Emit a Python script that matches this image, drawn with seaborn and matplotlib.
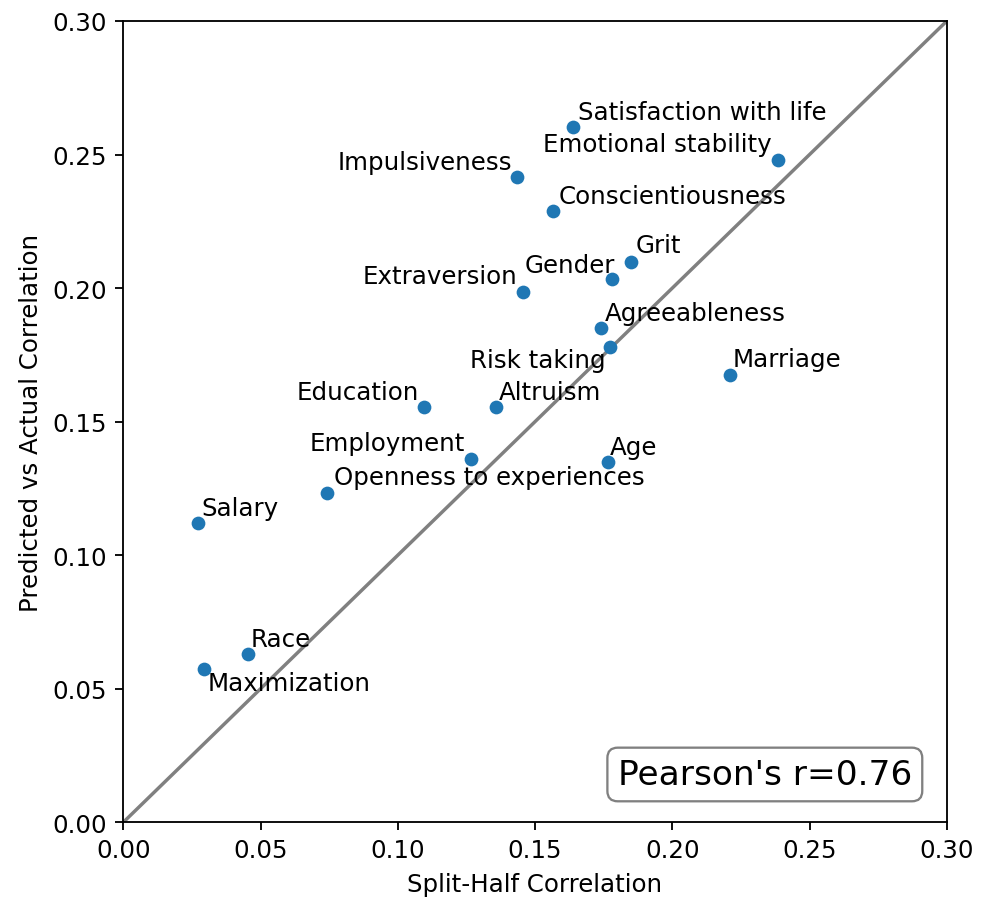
import matplotlib
matplotlib.use("Agg")
import matplotlib.pyplot as plt
import seaborn as sns
import pandas as pd

# Outcome measures
traits = [
    "Satisfaction with life", "Emotional stability", "Impulsiveness",
    "Conscientiousness", "Grit", "Gender", "Extraversion", "Agreeableness",
    "Risk taking", "Marriage", "Education", "Altruism", "Employment", "Age",
    "Openness to experiences", "Salary", "Race", "Maximization",
]
split_half = [
    0.1640, 0.2384, 0.1436, 0.1567, 0.1849, 0.1779, 0.1455, 0.1740,
    0.1773, 0.2210, 0.1097, 0.1358, 0.1268, 0.1765, 0.0741, 0.0271,
    0.0453, 0.0293,
]
pred_vs_actual = [
    0.2602, 0.2480, 0.2415, 0.2288, 0.2097, 0.2034, 0.1987, 0.1851,
    0.1781, 0.1676, 0.1554, 0.1554, 0.1360, 0.1348, 0.1233, 0.1121,
    0.0631, 0.0573,
]
ticks = [0.00, 0.05, 0.10, 0.15, 0.20, 0.25, 0.30]
pearson_r = 0.76

# Label placement relative to each point: (dx px, dy px, alignment)
label_offsets = {
    "Satisfaction with life": (5, 8, "left"),
    "Emotional stability": (-6, 9, "right"),
    "Impulsiveness": (-5, 8, "right"),
    "Conscientiousness": (5, 8, "left"),
    "Grit": (5, 10, "left"),
    "Gender": (3, 7, "right"),
    "Extraversion": (-5, 9, "right"),
    "Agreeableness": (4, 8, "left"),
    "Risk taking": (-4, -20, "right"),
    "Marriage": (3, 9, "left"),
    "Education": (-5, 8, "right"),
    "Altruism": (3, 8, "left"),
    "Employment": (-6, 9, "right"),
    "Age": (2, 8, "left"),
    "Openness to experiences": (7, 9, "left"),
    "Salary": (4, 8, "left"),
    "Race": (3, 8, "left"),
    "Maximization": (4, -21, "left"),
}

DPI = 165
FS = 10.7
df = pd.DataFrame({"trait": traits, "split_half": split_half,
                   "pred": pred_vs_actual})

fig = plt.figure(figsize=(987 / DPI, 900 / DPI), dpi=DPI)
ax = fig.add_axes([0.1249, 0.0852, 0.8344, 0.8904])

# identity line
ax.plot([0, 0.30], [0, 0.30], color="gray", lw=1.5, zorder=1)

sns.scatterplot(data=df, x="split_half", y="pred", ax=ax, color="#1f77b4",
                s=36, linewidth=0, zorder=3)

px2pt = 72 / DPI
for name, xv, yv in zip(traits, split_half, pred_vs_actual):
    dx, dy, ha = label_offsets[name]
    ax.annotate(name, (xv, yv), xytext=(dx * px2pt, dy * px2pt),
                textcoords="offset points", ha=ha, va="baseline",
                fontsize=FS, zorder=4)

ax.text(0.779, 0.0597, f"Pearson's r={pearson_r:.2f}", transform=ax.transAxes,
        ha="center", va="center", fontsize=15,
        bbox=dict(boxstyle="round,pad=0.3", facecolor="white",
                  edgecolor="gray", linewidth=1.0))

ax.set_xlim(0, 0.30)
ax.set_ylim(0, 0.30)
ax.set_xticks(ticks)
ax.set_yticks(ticks)
ax.set_xticklabels([f"{t:.2f}" for t in ticks])
ax.set_yticklabels([f"{t:.2f}" for t in ticks])
ax.tick_params(labelsize=FS)
ax.set_xlabel("Split-Half Correlation", fontsize=FS)
ax.set_ylabel("Predicted vs Actual Correlation", fontsize=FS)

fig.savefig("out.png", dpi=DPI)
